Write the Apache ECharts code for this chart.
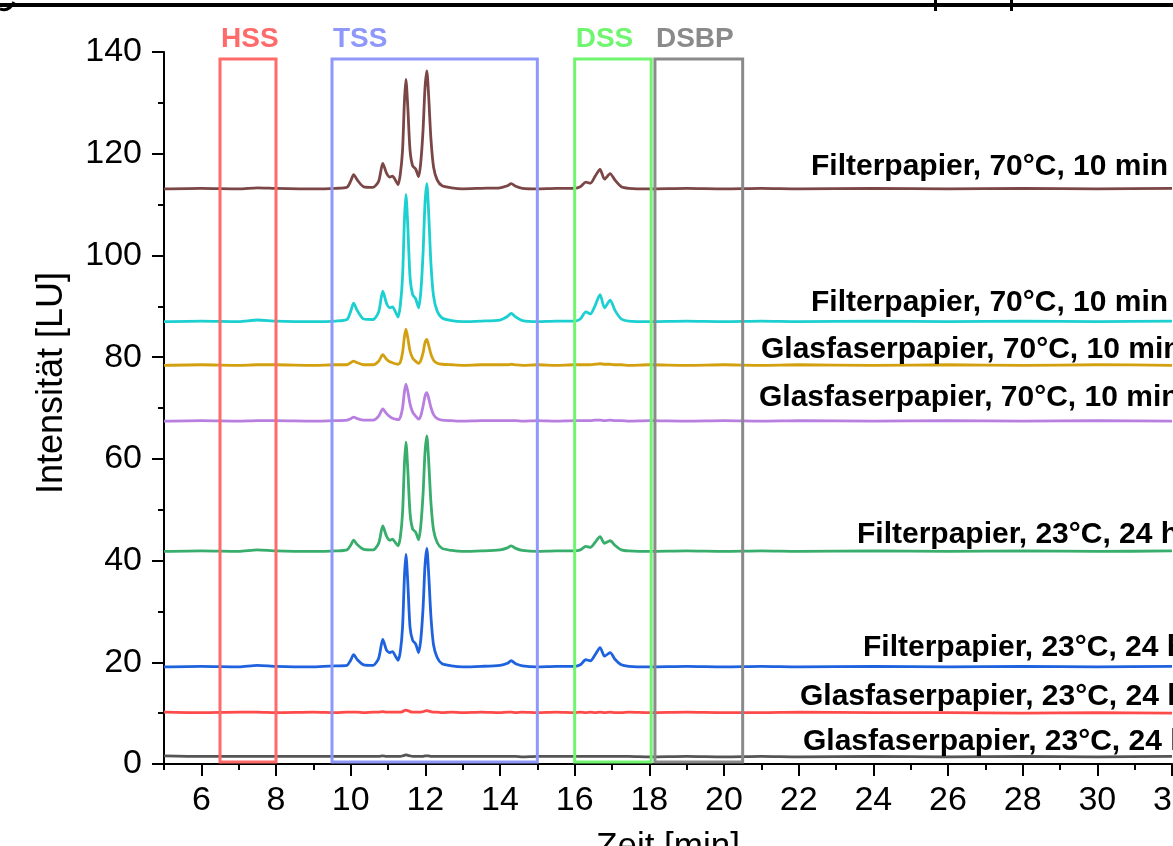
<!DOCTYPE html>
<html><head><meta charset="utf-8">
<script src="https://cdn.jsdelivr.net/npm/echarts@6/dist/echarts.min.js"></script>
<style>html,body{margin:0;padding:0;background:#fff}#c{width:1173px;height:846px}</style>
</head><body><div id="c"></div>
<script>
// Retention time grid [min]
const times = [5,6,7,7.5,8,9,9.6,9.9,10.0,10.08,10.18,10.35,10.6,10.75,10.86,10.96,11.05,11.12,11.2,11.27,11.33,11.39,11.44,11.48,11.53,11.59,11.66,11.74,11.82,11.88,11.94,11.99,12.04,12.09,12.15,12.22,12.32,12.45,12.7,13.0,13.5,14.0,14.2,14.3,14.42,14.6,15.0,15.5,16.0,16.15,16.3,16.42,16.55,16.68,16.8,16.95,17.08,17.25,17.45,18,19,20,21,22,24,26,28,30,32];

// Intensity [LU] of each trace (offset as in the figure)
const filter70a = [113.1,113.2,113.1,113.3,113.2,113.1,113.2,113.4,114.6,115.9,114.8,113.5,113.4,114.6,118.1,116.2,115.4,115.6,114.8,113.9,116.0,120.7,130.3,134.6,129.2,120.7,117.6,117.0,115.5,118.5,124.8,132.8,136.3,131.2,122.9,117.4,114.8,113.7,113.3,113.1,113.2,113.3,113.7,114.1,113.6,113.2,113.1,113.2,113.2,113.5,114.4,114.2,115.6,116.9,115.0,116.1,114.8,113.5,113.2,113.1,113.2,113.1,113.2,113.1,113.2,113.1,113.2,113.1,113.2];
const filter70b = [87.0,87.1,87.0,87.3,87.1,87.0,87.1,87.4,89.0,90.6,89.1,87.5,87.4,88.9,93.0,90.6,89.7,89.9,88.9,87.9,90.2,95.8,107.0,112.0,105.8,95.8,92.3,91.5,89.7,93.0,100.6,110.1,114.1,108.2,98.4,92.0,89.0,87.7,87.2,87.0,87.1,87.3,88.0,88.6,87.9,87.2,87.0,87.1,87.1,87.5,88.9,88.5,90.2,92.3,89.7,91.2,89.2,87.5,87.1,87.0,87.1,87.0,87.1,87.0,87.1,87.0,87.1,87.0,87.1];
const glas70a = [78.4,78.5,78.4,78.5,78.5,78.4,78.5,78.5,78.9,79.2,78.9,78.5,78.5,79.2,80.5,79.6,79.1,78.9,78.7,78.6,79.0,80.9,84.0,85.5,83.8,81.2,79.8,79.2,78.8,79.4,80.9,82.8,83.5,82.3,80.6,79.4,78.8,78.6,78.5,78.4,78.5,78.5,78.5,78.6,78.5,78.4,78.5,78.4,78.5,78.5,78.5,78.5,78.6,78.7,78.6,78.6,78.5,78.5,78.4,78.5,78.4,78.5,78.4,78.5,78.4,78.5,78.4,78.5,78.4];
const glas70b = [67.4,67.5,67.4,67.5,67.5,67.4,67.5,67.6,67.9,68.2,67.9,67.6,67.6,68.4,69.8,68.9,68.3,68.0,67.8,67.7,68.2,70.0,73.2,74.7,73.3,70.8,69.2,68.4,67.8,68.5,70.4,72.3,73.0,71.9,70.1,68.7,67.9,67.6,67.5,67.4,67.5,67.5,67.5,67.5,67.5,67.4,67.5,67.4,67.5,67.5,67.5,67.5,67.6,67.6,67.5,67.6,67.5,67.5,67.4,67.5,67.4,67.5,67.4,67.5,67.4,67.5,67.4,67.5,67.4];
const filter23a = [41.8,41.9,41.8,42.1,41.9,41.8,41.9,42.1,43.0,44.0,43.1,42.2,42.1,43.4,46.8,44.8,44.0,44.2,43.5,42.9,44.6,49.4,59.0,63.3,57.9,49.4,46.2,45.6,44.1,47.0,53.2,61.1,64.5,59.5,51.4,46.0,43.5,42.4,42.0,41.8,41.9,42.1,42.5,42.9,42.4,42.0,41.8,41.9,41.9,42.1,42.8,42.6,43.6,44.7,43.4,43.9,43.0,42.1,41.9,41.8,41.9,41.8,41.9,41.8,41.9,41.8,41.9,41.8,41.9];
const filter23b = [19.1,19.2,19.1,19.4,19.2,19.1,19.3,19.4,20.4,21.5,20.5,19.5,19.4,20.8,24.5,22.4,21.9,22.1,21.2,20.4,22.1,26.9,36.8,41.2,35.7,26.9,24.3,23.6,21.9,24.6,30.8,38.9,42.4,37.3,29.0,23.4,20.9,19.7,19.3,19.1,19.2,19.4,19.8,20.3,19.7,19.3,19.1,19.2,19.2,19.5,20.5,20.3,21.5,22.9,21.2,21.9,20.6,19.5,19.2,19.1,19.2,19.1,19.2,19.1,19.2,19.1,19.2,19.1,19.2];
const glas23a = [10.2,10.1,10.2,10.2,10.1,10.2,10.1,10.2,10.2,10.2,10.2,10.1,10.2,10.2,10.3,10.2,10.2,10.2,10.2,10.2,10.2,10.3,10.5,10.6,10.5,10.3,10.2,10.2,10.2,10.2,10.3,10.4,10.5,10.4,10.3,10.2,10.2,10.1,10.2,10.1,10.2,10.1,10.2,10.2,10.1,10.2,10.1,10.2,10.1,10.2,10.1,10.2,10.1,10.2,10.1,10.2,10.1,10.1,10.2,10.1,10.2,10.1,10.1,10.2,10.1,10.1,10.0,10.1,10.0];
const glas23b = [1.6,1.5,1.5,1.5,1.5,1.5,1.5,1.5,1.5,1.5,1.5,1.5,1.5,1.5,1.6,1.5,1.5,1.5,1.5,1.5,1.5,1.6,1.7,1.8,1.7,1.6,1.5,1.5,1.5,1.5,1.5,1.6,1.6,1.6,1.5,1.5,1.5,1.5,1.5,1.5,1.5,1.5,1.5,1.5,1.5,1.4,1.5,1.5,1.5,1.5,1.5,1.5,1.5,1.5,1.5,1.5,1.5,1.5,1.5,1.4,1.5,1.4,1.5,1.4,1.5,1.4,1.5,1.4,1.5];

const traceLabels = ['Filterpapier, 70°C, 10 min','Filterpapier, 70°C, 10 min','Glasfaserpapier, 70°C, 10 min','Glasfaserpapier, 70°C, 10 min','Filterpapier, 23°C, 24 h','Filterpapier, 23°C, 24 h','Glasfaserpapier, 23°C, 24 h','Glasfaserpapier, 23°C, 24 h'];
const traces = [filter70a, filter70b, glas70a, glas70b, filter23a, filter23b, glas23a, glas23b];

// Fraction windows
const boxNames = ['HSS','TSS','DSS','DSBP'];
const boxStart = [6.5, 9.5, 16.0, 18.15];
const boxEnd = [8.0, 15.0, 18.05, 20.5];
const boxLow = [0.4, 0.4, 0.4, 0.4];
const boxHigh = [138.6, 138.6, 138.6, 138.6];

const xMajor = [6,8,10,12,14,16,18,20,22,24,26,28,30,32];
const xMinor = [5,7,9,11,13,15,17,19,21,23,25,27,29,31];

const traceColors = ['#7b4646','#1ccfd0','#d3a010','#b87ee0','#38ad6c','#1e62de','#ff4a4a','#555555'];
const boxColors = ['#ff6a6a','#8e98fa','#6ff56f','#8a8a8a'];
const FONT = '"Liberation Sans", Arial, sans-serif';

const chart = echarts.init(document.getElementById('c'), null, {renderer: 'canvas'});

const lineSeries = traces.map((vals, i) => ({
  type: 'line',
  name: traceLabels[i],
  xAxisIndex: 0, yAxisIndex: 0,
  data: times.map((t, k) => [t, vals[k]]),
  showSymbol: false,
  smooth: 0.25,
  lineStyle: {color: traceColors[i], width: 2.8},
  itemStyle: {color: traceColors[i]},
  z: 2,
  silent: true
}));

const boxSeries = {
  type: 'custom',
  xAxisIndex: 0, yAxisIndex: 0,
  clip: false,
  z: 5,
  silent: true,
  data: boxNames.map((n, i) => [boxStart[i], boxEnd[i], boxLow[i], boxHigh[i]]),
  renderItem: function (params, api) {
    const i = params.dataIndex;
    const p0 = api.coord([api.value(0), api.value(3)]);
    const p1 = api.coord([api.value(1), api.value(2)]);
    const c = boxColors[i];
    return {
      type: 'group',
      children: [
        {type: 'rect', shape: {x: p0[0], y: p0[1], width: p1[0] - p0[0], height: p1[1] - p0[1]},
         style: {fill: 'none', stroke: c, lineWidth: 3}},
        {type: 'text', x: p0[0] + 1, y: p0[1] - 20,
         style: {text: boxNames[i], fill: c, font: 'bold 28px ' + FONT, align: 'left', verticalAlign: 'middle'}}
      ]
    };
  }
};

const labelPos = [[811,167],[811,303],[761,350],[759,398],[857,535],[863,648],[800,697],[803,742]];

const graphics = traceLabels.map((t, i) => ({
  type: 'text', x: labelPos[i][0], y: labelPos[i][1], z: 10, silent: true,
  style: {text: t, fill: '#000', font: 'bold 30px ' + FONT, align: 'left', verticalAlign: 'middle'}
}));
graphics.push({
  type: 'text', x: 52, y: 383, rotation: Math.PI / 2, z: 10, silent: true,
  style: {text: 'Intensität [LU]', fill: '#000', font: '36px ' + FONT, align: 'center', verticalAlign: 'middle'}
});
// cropped title remnants at the top edge
graphics.push({type: 'rect', shape: {x: 0, y: 3, width: 1173, height: 4}, style: {fill: '#000'}, silent: true});
graphics.push({type: 'rect', shape: {x: 934, y: 0, width: 3, height: 11}, style: {fill: '#000'}, silent: true});
graphics.push({type: 'rect', shape: {x: 1010, y: 0, width: 3, height: 11}, style: {fill: '#000'}, silent: true});
graphics.push({type: 'bezierCurve', shape: {x1: 0, y1: 9, x2: 14, y2: 2, cpx1: 9, cpy1: 12}, style: {fill: 'none', stroke: '#000', lineWidth: 3}, silent: true});

const option = {
  animation: false,
  backgroundColor: '#fff',
  grid: {left: 164, right: 1, top: 52, bottom: 82, containLabel: false, outerBoundsMode: 'none'},
  xAxis: [{
    type: 'value', min: 5, max: 32,
    name: 'Zeit [min]', nameLocation: 'middle', nameGap: 66,
    nameTextStyle: {fontSize: 35, fontFamily: FONT, color: '#000'},
    axisLine: {show: true, onZero: false, lineStyle: {color: '#000', width: 2}},
    axisTick: {show: true, customValues: xMajor, length: 12, lineStyle: {color: '#000', width: 2}},
    axisLabel: {show: true, customValues: xMajor, margin: 20, fontSize: 34, fontFamily: FONT, color: '#000'},
    splitLine: {show: false}
  }, {
    type: 'value', min: 5, max: 32, position: 'bottom',
    axisLine: {show: false},
    axisTick: {show: true, customValues: xMinor, length: 6, lineStyle: {color: '#000', width: 2}},
    axisLabel: {show: false},
    splitLine: {show: false}
  }],
  yAxis: {
    type: 'value', min: 0, max: 140, interval: 20,
    axisLine: {show: true, lineStyle: {color: '#000', width: 2}},
    axisTick: {show: true, length: 12, lineStyle: {color: '#000', width: 2}},
    minorTick: {show: true, splitNumber: 2, length: 6, lineStyle: {color: '#000', width: 2}},
    axisLabel: {margin: 22, fontSize: 34, fontFamily: FONT, color: '#000'},
    splitLine: {show: false}
  },
  series: lineSeries.concat([boxSeries]),
  graphic: graphics
};
chart.setOption(option);
</script>
</body></html>
